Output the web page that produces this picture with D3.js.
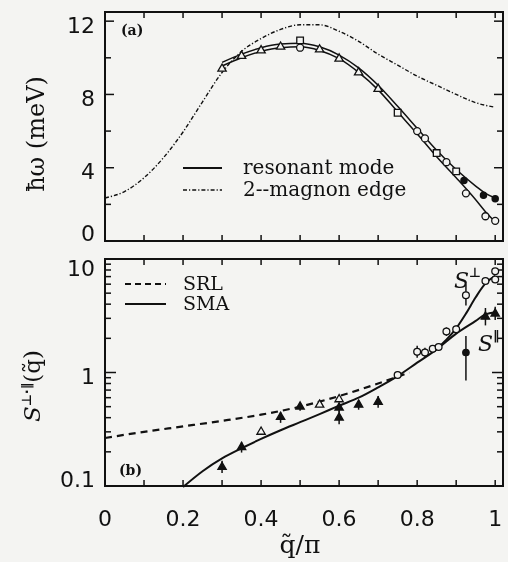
<!DOCTYPE html>
<html>
<head>
<meta charset="utf-8">
<script src="https://cdn.jsdelivr.net/npm/d3@7"></script>
<style>
  body { margin: 0; background: #f4f4f2; }
  svg { display: block; will-change: transform; }
  text { fill: #111; }
</style>
</head>
<body>
<svg id="chart"></svg>
<script>
// ---- data ----
// panel (a): dispersion, hbar omega in meV vs q/pi
var magnonEdge = [[0, 2.35], [0.05, 2.7], [0.1, 3.45], [0.15, 4.55], [0.2, 5.95], [0.25, 7.6],
    [0.3, 9.2], [0.35, 10.35], [0.4, 11.05], [0.45, 11.55], [0.5, 11.8], [0.55, 11.8],
    [0.6, 11.45], [0.65, 10.9], [0.7, 10.2], [0.75, 9.6], [0.8, 9.0], [0.85, 8.5],
    [0.9, 8.0], [0.95, 7.55], [1.0, 7.3]];
var resonantUpper = [[0.3, 9.75], [0.35, 10.2], [0.4, 10.55], [0.45, 10.75], [0.5, 10.8],
    [0.55, 10.6], [0.6, 10.15], [0.65, 9.45], [0.7, 8.5], [0.75, 7.35], [0.8, 6.15],
    [0.85, 4.95], [0.9, 3.9], [0.95, 3.0], [0.975, 2.6], [1.0, 2.35]];
var resonantLower = [[0.3, 9.55], [0.35, 10.0], [0.4, 10.35], [0.45, 10.55], [0.5, 10.6],
    [0.55, 10.4], [0.6, 9.95], [0.65, 9.2], [0.7, 8.25], [0.75, 7.05], [0.8, 5.85],
    [0.85, 4.6], [0.9, 3.45], [0.95, 2.25], [0.975, 1.6], [1.0, 1.05]];
var aTriangles = [[0.3, 9.4], [0.35, 10.1], [0.4, 10.4], [0.45, 10.6], [0.55, 10.45],
    [0.6, 9.95], [0.65, 9.2], [0.7, 8.3]];
var aSquares = [[0.5, 10.95], [0.75, 7.0], [0.85, 4.8], [0.9, 3.8]];
var aOpenCircles = [[0.5, 10.55], [0.8, 6.0], [0.82, 5.6], [0.875, 4.3], [0.925, 2.6],
    [0.975, 1.35], [1.0, 1.1]];
var aFilledCircles = [[0.92, 3.3], [0.97, 2.5], [1.0, 2.3]];

// panel (b): structure factor (log scale) [x, y, lo, hi]
var srl = [[0, 0.265], [0.1, 0.3], [0.2, 0.335], [0.3, 0.375], [0.4, 0.425], [0.5, 0.5],
    [0.6, 0.62], [0.7, 0.8], [0.78, 1.0]];
var smaPar = [[0.2, 0.098], [0.25, 0.135], [0.3, 0.175], [0.35, 0.215], [0.4, 0.26],
    [0.45, 0.31], [0.5, 0.365], [0.55, 0.43], [0.6, 0.51], [0.65, 0.6], [0.7, 0.74],
    [0.75, 0.93], [0.8, 1.22], [0.85, 1.6], [0.9, 2.2], [0.95, 2.85], [0.975, 3.25], [1.0, 3.4]];
var smaPerp = [[0.85, 1.62], [0.875, 1.95], [0.9, 2.45], [0.925, 3.3], [0.95, 4.6],
    [0.975, 6.1], [1.0, 7.1]];
var bFilledTri = [[0.3, 0.147, 0.13, 0.167], [0.35, 0.22, 0.197, 0.245], [0.45, 0.405, 0.36, 0.45],
    [0.5, 0.5, 0.46, 0.54], [0.6, 0.49, 0.45, 0.54], [0.6, 0.4, 0.35, 0.46],
    [0.65, 0.52, 0.47, 0.57], [0.7, 0.55, 0.49, 0.62], [0.975, 3.1, 2.6, 3.7], [1.0, 3.3, 2.9, 3.8]];
var bOpenTri = [[0.4, 0.3], [0.55, 0.52], [0.6, 0.58]];
var bOpenCircles = [[0.75, 0.95, 0.88, 1.03], [0.8, 1.52, 1.35, 1.72], [0.82, 1.5, 1.35, 1.65],
    [0.84, 1.62, 1.5, 1.75], [0.855, 1.68, 1.58, 1.8], [0.875, 2.3, 2.1, 2.5], [0.9, 2.4, 2.2, 2.6],
    [0.925, 4.8, 3.9, 6.0], [0.975, 6.4, 6.0, 6.8], [1.0, 6.6, 6.2, 7.0], [1.0, 7.8, 7.3, 8.3]];
var bFilledCircles = [[0.925, 1.5, 0.85, 2.1]];

var xTickLabels = ["0", "0.2", "0.4", "0.6", "0.8", "1"];
var aTickLabels = ["0", "4", "8", "12"];
var bTickLabels = ["0.1", "1", "10"];

// ---- layout ----
var W = 508, H = 562;
var svg = d3.select("#chart").attr("width", W).attr("height", H);

var x = d3.scaleLinear().domain([0, 1.02]).range([105, 503]);
var ya = d3.scaleLinear().domain([0, 12.5]).range([241, 12]);
var yb = d3.scaleLog().domain([0.1, 10]).range([486, 259]);

var sansFont = "DejaVu Sans";
var serifFont = "DejaVu Serif";

function frame(y0, y1) {
    svg.append("rect")
        .attr("x", x(0)).attr("y", y1)
        .attr("width", x(1.02) - x(0)).attr("height", y0 - y1)
        .attr("fill", "none").attr("stroke", "#111").attr("stroke-width", 2);
}

function xTicks(yTop, yBot) {
    var ticks = d3.range(0, 11).map(function (i) { return i / 10; });
    svg.selectAll(null).data(ticks).enter().append("line")
        .attr("x1", d => x(d)).attr("x2", d => x(d))
        .attr("y1", yBot).attr("y2", yBot - 6)
        .attr("stroke", "#111").attr("stroke-width", 1.5);
    svg.selectAll(null).data(ticks).enter().append("line")
        .attr("x1", d => x(d)).attr("x2", d => x(d))
        .attr("y1", yTop).attr("y2", yTop + 6)
        .attr("stroke", "#111").attr("stroke-width", 1.5);
}

function yTicks(scale, values, len) {
    var xl = x(0), xr = x(1.02);
    values.forEach(function (v, i) {
        var py = scale(v), l = len[i];
        svg.append("line").attr("x1", xl).attr("x2", xl + l).attr("y1", py).attr("y2", py)
            .attr("stroke", "#111").attr("stroke-width", 1.5);
        svg.append("line").attr("x1", xr).attr("x2", xr - l).attr("y1", py).attr("y2", py)
            .attr("stroke", "#111").attr("stroke-width", 1.5);
    });
}

// panel (a)
frame(ya(0), ya(12.5));
xTicks(ya(12.5), ya(0));
var aVals = d3.range(0, 13, 2);
yTicks(ya, aVals, aVals.map(v => v % 4 === 0 ? 9 : 6));

// panel (b)
frame(yb(0.1), yb(10));
xTicks(yb(10), yb(0.1));
var bVals = [];
[0.1, 1].forEach(function (dec) {
    for (var k = 1; k < 10; k++) bVals.push(dec * k);
});
bVals.push(10);
yTicks(yb, bVals, bVals.map(v => (Math.abs(Math.log10(v) - Math.round(Math.log10(v))) < 1e-6) ? 11 : 6));

// tick labels
svg.selectAll(null).data(aTickLabels).enter().append("text")
    .attr("x", 95)
    .attr("y", function (d) {
        var v = +d, py = ya(v);
        if (v === 0) return py - 8;
        return py + 4;
    })
    .attr("dy", "0.35em")
    .attr("text-anchor", "end")
    .style("font-family", sansFont).style("font-size", "22px")
    .text(d => d);

svg.selectAll(null).data(bTickLabels).enter().append("text")
    .attr("x", 95)
    .attr("y", function (d) {
        var v = +d, py = yb(v);
        if (v === 0.1) return py - 7;
        if (v === 10) return py + 9;
        return py + 4;
    })
    .attr("dy", "0.35em")
    .attr("text-anchor", "end")
    .style("font-family", sansFont).style("font-size", "22px")
    .text(d => d);

svg.selectAll(null).data(xTickLabels).enter().append("text")
    .attr("x", d => x(+d))
    .attr("y", 518)
    .attr("dy", "0.35em")
    .attr("text-anchor", "middle")
    .style("font-family", sansFont).style("font-size", "22px")
    .text(d => d);

// axis titles
svg.append("text")
    .attr("transform", "translate(44,134) rotate(-90)")
    .attr("text-anchor", "middle")
    .style("font-family", serifFont).style("font-size", "24px")
    .text("\u0127\u03c9 (meV)");

var bt = svg.append("text")
    .attr("transform", "translate(40,386) rotate(-90)")
    .attr("text-anchor", "middle")
    .style("font-family", serifFont).style("font-size", "23px");
bt.append("tspan").style("font-style", "italic").text("S");
bt.append("tspan").attr("dy", -9).style("font-size", "13px").style("font-family", sansFont)
    .style("font-weight", "bold").text("\u22a5\u00b7\u2016");
bt.append("tspan").attr("dy", 9).text("(q\u0303)");

var xt = svg.append("text")
    .attr("x", 300).attr("y", 553)
    .attr("text-anchor", "middle")
    .style("font-family", serifFont).style("font-size", "25px");
xt.append("tspan").text("q\u0303");
xt.append("tspan").text("/\u03c0");

// panel labels
svg.append("text").attr("x", 121).attr("y", 35)
    .style("font-family", serifFont).style("font-size", "14px").style("font-weight", "bold")
    .text("(a)");
svg.append("text").attr("x", 119).attr("y", 475)
    .style("font-family", serifFont).style("font-size", "14px").style("font-weight", "bold")
    .text("(b)");

// ---- curves ----
var lineA = d3.line().x(d => x(d[0])).y(d => ya(d[1])).curve(d3.curveMonotoneX);
var lineB = d3.line().x(d => x(d[0])).y(d => yb(d[1])).curve(d3.curveMonotoneX);

svg.append("path").datum(magnonEdge).attr("d", lineA)
    .attr("fill", "none").attr("stroke", "#111").attr("stroke-width", 1.4)
    .attr("stroke-dasharray", "4,2,1.2,2");
[resonantUpper, resonantLower].forEach(function (c) {
    svg.append("path").datum(c).attr("d", lineA)
        .attr("fill", "none").attr("stroke", "#111").attr("stroke-width", 1.5);
});

svg.append("path").datum(srl).attr("d", lineB)
    .attr("fill", "none").attr("stroke", "#111").attr("stroke-width", 2.2)
    .attr("stroke-dasharray", "7,5");
[smaPar, smaPerp].forEach(function (c) {
    svg.append("path").datum(c).attr("d", lineB)
        .attr("fill", "none").attr("stroke", "#111").attr("stroke-width", 2);
});

// ---- markers ----
var tri = d3.symbol().type(d3.symbolTriangle).size(30);
var sq = d3.symbol().type(d3.symbolSquare).size(44);

function markers(data, xs, ys, shape, filled, r) {
    data.forEach(function (d) {
        var px = xs(d[0]), py = ys(d[1]);
        if (d.length > 2) {
            svg.append("line").attr("x1", px).attr("x2", px)
                .attr("y1", ys(d[2])).attr("y2", ys(d[3]))
                .attr("stroke", "#111").attr("stroke-width", 1.5);
        }
        var m;
        if (shape === "circle") {
            m = svg.append("circle").attr("cx", px).attr("cy", py).attr("r", r);
        } else {
            m = svg.append("path").attr("d", shape === "tri" ? tri() : sq())
                .attr("transform", "translate(" + px + "," + py + ")");
        }
        m.attr("fill", filled ? "#111" : "#f4f4f2")
            .attr("stroke", "#111").attr("stroke-width", 1.3);
    });
}

markers(aTriangles, x, ya, "tri", false);
markers(aSquares, x, ya, "sq", false);
markers(aOpenCircles, x, ya, "circle", false, 3.5);
markers(aFilledCircles, x, ya, "circle", true, 3.1);

markers(bOpenTri, x, yb, "tri", false);
markers(bFilledTri, x, yb, "tri", true);
markers(bOpenCircles, x, yb, "circle", false, 3.4);
markers(bFilledCircles, x, yb, "circle", true, 3.2);

// ---- legends ----
svg.append("line").attr("x1", 183).attr("x2", 222).attr("y1", 168).attr("y2", 168)
    .attr("stroke", "#111").attr("stroke-width", 2);
svg.append("line").attr("x1", 183).attr("x2", 222).attr("y1", 190).attr("y2", 190)
    .attr("stroke", "#111").attr("stroke-width", 1.4).attr("stroke-dasharray", "4,2,1.2,2");
svg.append("text").attr("x", 243).attr("y", 174)
    .style("font-family", serifFont).style("font-size", "20px").text("resonant mode");
svg.append("text").attr("x", 243).attr("y", 196)
    .style("font-family", serifFont).style("font-size", "20px").text("2--magnon edge");

svg.append("line").attr("x1", 125).attr("x2", 166).attr("y1", 284).attr("y2", 284)
    .attr("stroke", "#111").attr("stroke-width", 2).attr("stroke-dasharray", "6,4");
svg.append("line").attr("x1", 125).attr("x2", 166).attr("y1", 304).attr("y2", 304)
    .attr("stroke", "#111").attr("stroke-width", 2);
svg.append("text").attr("x", 183).attr("y", 290)
    .style("font-family", serifFont).style("font-size", "19px").text("SRL");
svg.append("text").attr("x", 183).attr("y", 310)
    .style("font-family", serifFont).style("font-size", "19px").text("SMA");

// branch labels
var sp = svg.append("text").attr("x", 454).attr("y", 288)
    .style("font-family", serifFont).style("font-size", "22px");
sp.append("tspan").style("font-style", "italic").text("S");
sp.append("tspan").attr("dy", -11).style("font-size", "13px").style("font-family", sansFont)
    .style("font-weight", "bold").text("\u22a5");
var sl = svg.append("text").attr("x", 478).attr("y", 351)
    .style("font-family", serifFont).style("font-size", "22px");
sl.append("tspan").style("font-style", "italic").text("S");
sl.append("tspan").attr("dy", -11).style("font-size", "13px").style("font-family", sansFont)
    .style("font-weight", "bold").text("\u2016");
</script>
</body>
</html>
